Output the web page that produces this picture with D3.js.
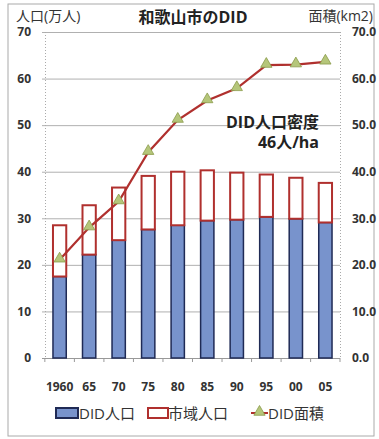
<!DOCTYPE html>
<html>
<head>
<meta charset="utf-8">
<script src="https://cdn.jsdelivr.net/npm/d3@7"></script>
<style>
  html, body { margin: 0; padding: 0; background: #fff; }
  svg text { font-family: "Open Sans", "Noto Sans CJK JP", sans-serif; }
</style>
</head>
<body>
<svg id="chart" width="379" height="439"></svg>
<script>
// 和歌山市のDID（人口集中地区）の推移
const years = ["1960", "65", "70", "75", "80", "85", "90", "95", "00", "05"];
const didPop = [17.5, 22.2, 25.3, 27.6, 28.5, 29.5, 29.7, 30.3, 29.9, 29.1];   // DID人口（万人）
const cityPop = [28.5, 32.8, 36.6, 39.1, 40.0, 40.3, 39.8, 39.4, 38.7, 37.6];  // 市域人口（万人）
const didArea = [21.1, 28.0, 33.6, 44.2, 51.1, 55.3, 57.9, 62.9, 63.0, 63.6];  // DID面積（km2）
const leftTicks = [0, 10, 20, 30, 40, 50, 60, 70];
const rightTicks = [0, 10, 20, 30, 40, 50, 60, 70];

const svg = d3.select("#chart");
const W = 379, H = 439;
const m = { left: 45, right: 340, top: 32, bottom: 358 };

const x = d3.scaleBand().domain(years).range([m.left, m.right]).paddingInner(0.55).paddingOuter(0.27);
const yL = d3.scaleLinear().domain([0, 70]).range([m.bottom, m.top]);
const yR = d3.scaleLinear().domain([0, 70]).range([m.bottom, m.top]);

const textCol = "#333";
const redCol = "#b0302e";
const blueFill = "#7893cc";
const blueStroke = "#1f2a55";
const triFill = "#b5c67a";
const triStroke = "#8a9a4a";

// outer frame
svg.append("rect").attr("x", 8).attr("y", 4).attr("width", 366).attr("height", 432)
  .attr("fill", "none").attr("stroke", "#aaa").attr("stroke-width", 1);

// horizontal gridlines
svg.append("g").selectAll("line").data(leftTicks.filter(d => d > 0)).join("line")
  .attr("x1", m.left - 3).attr("x2", m.right)
  .attr("y1", d => yL(d) + 0.5).attr("y2", d => yL(d) + 0.5)
  .attr("stroke", "#b0b0b0").attr("stroke-width", 1);

// plot-area side borders (dotted)
[m.left, m.right].forEach(px => {
  svg.append("line").attr("x1", px + 0.5).attr("x2", px + 0.5).attr("y1", m.top).attr("y2", m.bottom)
    .attr("stroke", "#aaa").attr("stroke-dasharray", "1,2");
});

// bottom axis line and ticks at band edges
svg.append("line").attr("x1", m.left - 3).attr("x2", m.right).attr("y1", m.bottom + 0.5).attr("y2", m.bottom + 0.5)
  .attr("stroke", "#999");
const edges = years.map(y => x(y) - x.step() * x.paddingInner() / 2).concat([m.right]);
svg.append("g").selectAll("line").data(edges).join("line")
  .attr("x1", d => d).attr("x2", d => d).attr("y1", m.bottom).attr("y2", m.bottom + 4)
  .attr("stroke", "#999");

// left axis labels
const axL = d3.axisLeft(yL).tickValues(leftTicks).tickSize(0).tickPadding(14).tickFormat(d3.format("d"));
const gL = svg.append("g").attr("transform", `translate(${m.left},0)`).call(axL);
gL.select(".domain").remove();
gL.selectAll("text").attr("fill", textCol).attr("font-size", 12).attr("font-weight", 700);

// right axis labels
const axR = d3.axisRight(yR).tickValues(rightTicks).tickSize(0).tickPadding(12).tickFormat(d3.format(".1f"));
const gR = svg.append("g").attr("transform", `translate(${m.right},0)`).call(axR);
gR.select(".domain").remove();
gR.selectAll("text").attr("fill", textCol).attr("font-size", 12).attr("font-weight", 700);

// x labels
svg.append("g").selectAll("text").data(years).join("text")
  .attr("x", d => x(d) + x.bandwidth() / 2).attr("y", 391)
  .attr("text-anchor", "middle").attr("fill", textCol)
  .attr("font-size", 12).attr("font-weight", 700).text(d => d);

// bars: DID population (bottom) and rest of city population (outlined)
const bars = svg.append("g");
bars.selectAll("rect.did").data(years).join("rect").attr("class", "did")
  .attr("x", d => x(d)).attr("width", x.bandwidth())
  .attr("y", (d, i) => yL(didPop[i])).attr("height", (d, i) => yL(0) - yL(didPop[i]))
  .attr("fill", blueFill).attr("stroke", blueStroke).attr("stroke-width", 1.5);
bars.selectAll("rect.city").data(years).join("rect").attr("class", "city")
  .attr("x", d => x(d)).attr("width", x.bandwidth())
  .attr("y", (d, i) => yL(cityPop[i])).attr("height", (d, i) => yL(didPop[i]) - yL(cityPop[i]))
  .attr("fill", "#fff").attr("stroke", redCol).attr("stroke-width", 2);

// DID area line
const cx = d => x(d) + x.bandwidth() / 2;
const line = d3.line().x((d, i) => cx(years[i])).y(d => yR(d));
svg.append("path").datum(didArea).attr("d", line)
  .attr("fill", "none").attr("stroke", redCol).attr("stroke-width", 2.2);
const tri = d3.symbol().type(d3.symbolTriangle).size(55);
svg.append("g").selectAll("path").data(didArea).join("path")
  .attr("d", tri)
  .attr("transform", (d, i) => `translate(${cx(years[i])},${yR(d) - 1})`)
  .attr("fill", triFill).attr("stroke", triStroke).attr("stroke-width", 0.8);

// titles
svg.append("text").attr("x", 193).attr("y", 23).attr("text-anchor", "middle")
  .attr("fill", "#222").attr("font-size", 16).attr("font-weight", 700).text("和歌山市のDID");
svg.append("text").attr("x", 16).attr("y", 21).attr("fill", textCol).attr("font-size", 14).text("人口(万人)");
svg.append("text").attr("x", 373).attr("y", 21).attr("text-anchor", "end").attr("fill", textCol).attr("font-size", 14).text("面積(km2)");

// density annotation
svg.append("text").attr("x", 319).attr("y", 128).attr("text-anchor", "end")
  .attr("fill", "#222").attr("font-size", 16).attr("font-weight", 700).text("DID人口密度");
svg.append("text").attr("x", 319).attr("y", 148).attr("text-anchor", "end")
  .attr("fill", "#222").attr("font-size", 16).attr("font-weight", 700).text("46人/ha");

// legend
const lg = svg.append("g");
lg.append("rect").attr("x", 56).attr("y", 408).attr("width", 22).attr("height", 10)
  .attr("fill", blueFill).attr("stroke", blueStroke).attr("stroke-width", 2);
lg.append("text").attr("x", 79).attr("y", 419).attr("fill", textCol).attr("font-size", 15).text("DID人口");
lg.append("rect").attr("x", 148).attr("y", 408).attr("width", 20).attr("height", 10)
  .attr("fill", "#fff").attr("stroke", redCol).attr("stroke-width", 2);
lg.append("text").attr("x", 168).attr("y", 419).attr("fill", textCol).attr("font-size", 15).text("市域人口");
lg.append("line").attr("x1", 251).attr("x2", 268).attr("y1", 413).attr("y2", 413).attr("stroke", redCol).attr("stroke-width", 2);
lg.append("path").attr("d", tri).attr("transform", "translate(259.5,412)")
  .attr("fill", triFill).attr("stroke", triStroke).attr("stroke-width", 0.8);
lg.append("text").attr("x", 268).attr("y", 419).attr("fill", textCol).attr("font-size", 15).text("DID面積");
</script>
</body>
</html>
